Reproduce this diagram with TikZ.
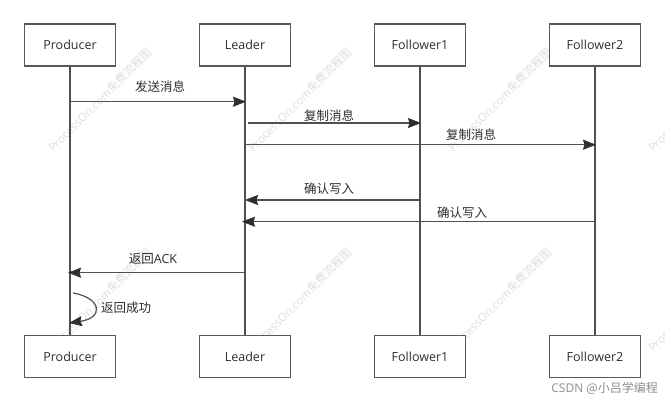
\documentclass[tikz,border=0pt]{standalone}
\usepackage{fontspec}
\setmainfont{Open Sans}
\newfontfamily\cjk{Noto Sans CJK SC}
\usetikzlibrary{arrows.meta}
\definecolor{boxc}{HTML}{55595D}
\definecolor{linec}{HTML}{505050}
\definecolor{txtc}{HTML}{2E2E2E}
\definecolor{tipc}{HTML}{2E2E2E}
\tikzset{
  actor/.style={draw=boxc, line width=1.3pt, fill=white, minimum width=91pt, minimum height=42pt, inner sep=0pt, text=txtc, font=\fontsize{12.5}{14}\selectfont},
  lifeline/.style={draw=linec, line width=1.2pt},
  msg/.style={draw=linec, line width=1.2pt, -{Stealth[length=13pt,width=10pt,inset=1.5pt,fill=tipc,color=tipc]}},
  lbl/.style={text=txtc, inner sep=0pt, font=\fontsize{12.5}{14}\selectfont},
  wm/.style={text=black!13, inner sep=0pt, rotate=45, font=\fontsize{11.5}{13}\selectfont},
}
\begin{document}
\begin{tikzpicture}[x=1pt,y=-1pt]
\useasboundingbox[fill=white] (0,0) rectangle (665,402);
% watermarks
\foreach \wx in {100,300,500,700}{
  \foreach \wy in {100,300}{
    \node[wm] (wm\wx\wy) at (\wx,\wy) {ProcessOn.com{\cjk 免费流程图}};
  }
}
% actors
\node[actor] (pt) at (70,45) {Producer};
\node[actor] (lt) at (245,45) {Leader};
\node[actor] (f1t) at (420,45) {Follower1};
\node[actor] (f2t) at (595,45) {Follower2};
\node[actor] (pb) at (70,356.5) {Producer};
\node[actor] (lb) at (245,356.5) {Leader};
\node[actor] (f1b) at (420,356.5) {Follower1};
\node[actor] (f2b) at (595,356.5) {Follower2};
% lifelines
\draw[lifeline] (pt.south) -- (pb.north);
\draw[lifeline] (lt.south) -- (lb.north);
\draw[lifeline] (f1t.south) -- (f1b.north);
\draw[lifeline] (f2t.south) -- (f2b.north);
% message end points
\coordinate (m1a) at (70,101.7);  \coordinate (m1b) at (246,101.7);
\coordinate (m2a) at (248,123);   \coordinate (m2b) at (421,123);
\coordinate (m3a) at (245,144.7); \coordinate (m3b) at (596,144.7);
\coordinate (m4a) at (420,200);   \coordinate (m4b) at (245,200);
\coordinate (m5a) at (595,221.7); \coordinate (m5b) at (242,221.7);
\coordinate (m6a) at (245,272.7); \coordinate (m6b) at (68,272.7);
\coordinate (s1) at (73,293);     \coordinate (s2) at (69,323);
\draw[msg] (m1a) -- (m1b);
\draw[msg] (m2a) -- (m2b);
\draw[msg] (m3a) -- (m3b);
\draw[msg] (m4a) -- (m4b);
\draw[msg] (m5a) -- (m5b);
\draw[msg] (m6a) -- (m6b);
\draw[msg] (s1) .. controls (102,298) and (104,318) .. (s2);
% labels
\node[lbl] (l1) at (160,87) {\cjk 发送消息};
\node[lbl] (l2) at (329,116) {\cjk 复制消息};
\node[lbl] (l3) at (471,135) {\cjk 复制消息};
\node[lbl] (l4) at (329,189) {\cjk 确认写入};
\node[lbl] (l5) at (462,213) {\cjk 确认写入};
\node[lbl] (l6) at (153,259) {{\cjk 返回}ACK};
\node[lbl, anchor=west] (l7) at (101,308) {\cjk 返回成功};
\node[text=black!45, inner sep=0pt, anchor=east, font=\fontsize{12}{14}\selectfont] (csdn) at (658,388) {CSDN {\cjk @小吕学编程}};
\end{tikzpicture}
\end{document}
